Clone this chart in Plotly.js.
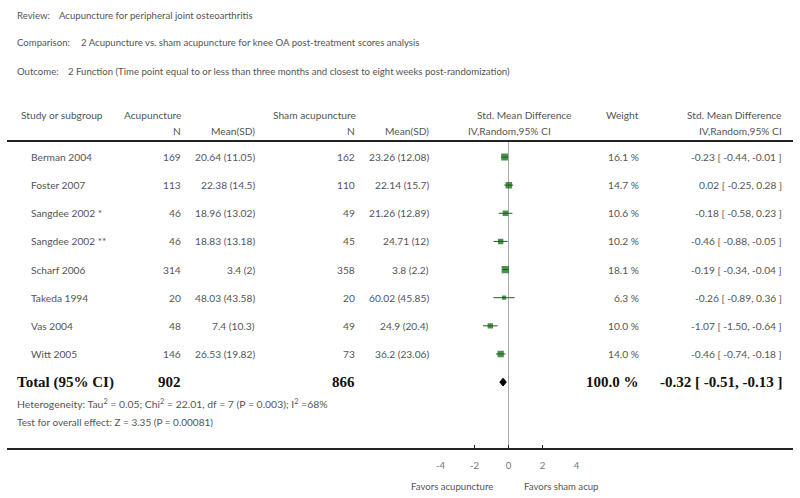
<!DOCTYPE html>
<html>
<head>
<meta charset="utf-8">
<script src="https://cdn.plot.ly/plotly-3.0.1.min.js"></script>
<style>
  html, body { margin: 0; padding: 0; background: #fff; }
  #forest { width: 800px; height: 498px; }
</style>
</head>
<body>
<div id="forest"></div>
<script>
// study data (Acupuncture vs sham, function outcome)
const studies = ['Berman 2004', 'Foster 2007', 'Sangdee 2002 *', 'Sangdee 2002 **', 'Scharf 2006', 'Takeda 1994', 'Vas 2004', 'Witt 2005'];
const acuN = [169, 113, 46, 46, 314, 20, 48, 146];
const acuMean = [20.64, 22.38, 18.96, 18.83, 3.4, 48.03, 7.4, 26.53];
const acuSD = [11.05, 14.5, 13.02, 13.18, 2, 43.58, 10.3, 19.82];
const shamN = [162, 110, 49, 45, 358, 20, 49, 73];
const shamMean = [23.26, 22.14, 21.26, 24.71, 3.8, 60.02, 24.9, 36.2];
const shamSD = [12.08, 15.7, 12.89, 12, 2.2, 45.85, 20.4, 23.06];
const smd = [-0.23, 0.02, -0.18, -0.46, -0.19, -0.26, -1.07, -0.46];
const ciLow = [-0.44, -0.25, -0.58, -0.88, -0.34, -0.89, -1.50, -0.74];
const ciHigh = [-0.01, 0.28, 0.23, -0.05, -0.04, 0.36, -0.64, -0.18];
const weight = [16.1, 14.7, 10.6, 10.2, 18.1, 6.3, 10.0, 14.0];

// pooled result
const totalAcuN = 902;
const totalShamN = 866;
const totalSmd = -0.32;
const totalLow = -0.51;
const totalHigh = -0.13;
const totalWeight = 100.0;

const tickVals = [-4, -2, 0, 2, 4];

// pixel helpers (page is 800 x 498, no margins)
const W = 800, H = 498;
const px = x => x / W;
const py = y => 1 - y / H;

const rowTop = 157, rowStep = 28.14;
const rowY = i => rowTop + rowStep * i;

const grey = '#555555';
const sans = 'Lato, "Open Sans", sans-serif';
const serif = '"Liberation Serif", "DejaVu Serif", serif';

const annotations = [];
function txt(text, x, y, anchor, opts) {
    opts = opts || {};
    annotations.push({
        text: text,
        xref: 'paper', yref: 'paper',
        x: px(x), y: py(y),
        xanchor: anchor, yanchor: 'middle',
        showarrow: false,
        borderpad: 0,
        font: {
            family: opts.family || sans,
            size: opts.size || 10.2,
            color: opts.color || grey,
            weight: opts.weight || 'normal'
        }
    });
}

// title block
const tSize = {size: 9.6};
txt('Review:', 16, 16, 'left', tSize);
txt('Acupuncture for peripheral joint osteoarthritis', 58, 16, 'left', tSize);
txt('Comparison:', 16, 43, 'left', tSize);
txt('2 Acupuncture vs. sham acupuncture for knee OA post-treatment scores analysis', 80, 43, 'left', tSize);
txt('Outcome:', 16, 71, 'left', tSize);
txt('2 Function (Time point equal to or less than three months and closest to eight weeks post-randomization)', 67, 71, 'left', tSize);

// column headers
txt('Study or subgroup', 20, 115, 'left');
txt('Acupuncture', 182, 115, 'right');
txt('N', 182, 131, 'right');
txt('Mean(SD)', 256, 131, 'right');
txt('Sham acupuncture', 357, 115, 'right');
txt('N', 356, 131, 'right');
txt('Mean(SD)', 430, 131, 'right');
txt('Std. Mean Difference', 476, 115, 'left');
txt('IV,Random,95% CI', 467, 131, 'left');
txt('Weight', 640, 115, 'right');
txt('Std. Mean Difference', 783, 115, 'right');
txt('IV,Random,95% CI', 783, 131, 'right');

// study rows
const f2 = v => v.toFixed(2);
studies.forEach((s, i) => {
    const y = rowY(i);
    txt(s, 30, y, 'left');
    txt(String(acuN[i]), 182, y, 'right');
    txt(acuMean[i] + ' (' + acuSD[i] + ')', 256, y, 'right');
    txt(String(shamN[i]), 356, y, 'right');
    txt(shamMean[i] + ' (' + shamSD[i] + ')', 430, y, 'right');
    txt(weight[i].toFixed(1) + ' %', 640, y, 'right');
    txt(f2(smd[i]) + ' [ ' + f2(ciLow[i]) + ', ' + f2(ciHigh[i]) + ' ]', 783, y, 'right');
});

// total row
const yT = rowY(studies.length);
const bold = {family: serif, size: 15, color: '#111111', weight: 'bold'};
txt('Total (95% CI)', 16, yT, 'left', bold);
txt(String(totalAcuN), 182, yT, 'right', bold);
txt(String(totalShamN), 356, yT, 'right', bold);
txt(totalWeight.toFixed(1) + ' %', 640, yT, 'right', bold);
txt(f2(totalSmd) + ' [ ' + f2(totalLow) + ', ' + f2(totalHigh) + ' ]', 783, yT, 'right', bold);

txt('Heterogeneity: Tau<sup>2</sup> = 0.05; Chi<sup>2</sup> = 22.01, df = 7 (P = 0.003); I<sup>2</sup> =68%', 16, 403, 'left', {size: 10.4});
txt('Test for overall effect: Z = 3.35 (P = 0.00081)', 16, 422, 'left', {size: 10});

txt('Favors acupuncture', 452, 486, 'center', {size: 9.6});
txt('Favors sham acup', 561, 486, 'center', {size: 9.6});

// traces
const rows = studies.map((s, i) => i);
const studyTrace = {
    type: 'scatter',
    mode: 'markers',
    x: smd,
    y: rows,
    marker: {
        symbol: 'square',
        color: '#006400',
        size: weight.map(w => Math.sqrt(w) * 1.7),
        line: {width: 0}
    },
    error_x: {
        type: 'data',
        symmetric: false,
        array: smd.map((v, i) => ciHigh[i] - v),
        arrayminus: smd.map((v, i) => v - ciLow[i]),
        color: '#2a5a2a',
        thickness: 1,
        width: 0
    },
    hoverinfo: 'skip'
};

const dh = 0.14;
const n = studies.length;
const diamond = {
    type: 'scatter',
    mode: 'lines',
    x: [totalLow, totalSmd, totalHigh, totalSmd, totalLow],
    y: [n, n - dh, n, n + dh, n],
    fill: 'toself',
    fillcolor: '#000000',
    line: {color: '#000000', width: 1},
    hoverinfo: 'skip'
};

const r0 = -rowTop / rowStep;
const r1 = r0 + H / rowStep;

const layout = {
    width: W,
    height: H,
    margin: {l: 0, r: 0, t: 0, b: 0},
    paper_bgcolor: '#ffffff',
    plot_bgcolor: 'rgba(0,0,0,0)',
    showlegend: false,
    xaxis: {
        domain: [440.5 / W, 576.5 / W],
        range: [-4, 4],
        anchor: 'free',
        position: py(449),
        tickvals: tickVals,
        ticktext: tickVals.map(String),
        ticks: 'inside',
        ticklen: 4,
        tickwidth: 1.5,
        tickcolor: '#222222',
        ticklabelstandoff: 9,
        showgrid: false,
        zeroline: false,
        showline: false,
        tickfont: {family: sans, size: 9.6, color: '#777777'}
    },
    yaxis: {
        range: [r1, r0],
        visible: false,
        showgrid: false,
        zeroline: false
    },
    shapes: [
        {type: 'line', xref: 'paper', yref: 'paper', x0: px(7), x1: px(793), y0: py(141), y1: py(141),
         line: {color: '#222222', width: 2}},
        {type: 'line', xref: 'paper', yref: 'paper', x0: px(7), x1: px(793), y0: py(449), y1: py(449),
         line: {color: '#222222', width: 2}},
        {type: 'line', xref: 'x', yref: 'paper', x0: 0, x1: 0, y0: py(449), y1: py(142),
         line: {color: '#aaaaaa', width: 1}, layer: 'below'}
    ],
    annotations: annotations
};

Plotly.newPlot('forest', [studyTrace, diamond], layout, {staticPlot: true});
</script>
</body>
</html>
